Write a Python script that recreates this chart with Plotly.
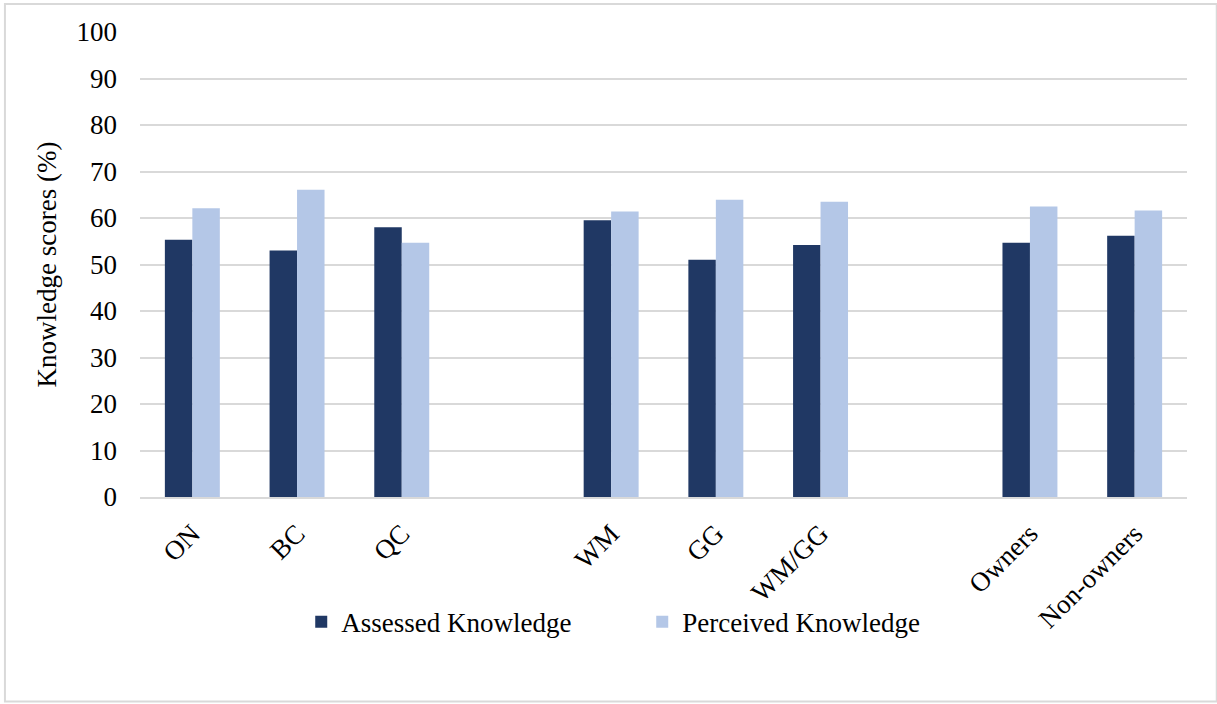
import plotly.graph_objects as go

# Groups: region, product type, ownership (blank slots separate the groups)
categories = ["ON", "BC", "QC", " ", "WM", "GG", "WM/GG", "  ", "Owners", "Non-owners"]
assessed = [55.3, 53.0, 58.0, None, 59.5, 51.0, 54.2, None, 54.7, 56.2]
perceived = [62.1, 66.1, 54.7, None, 61.4, 63.9, 63.5, None, 62.5, 61.6]
y_ticks = [0, 10, 20, 30, 40, 50, 60, 70, 80, 90, 100]

FONT = "Liberation Serif"
GRID = "#d9d9d9"
FS = 27

fig = go.Figure()
fig.add_trace(go.Bar(name="Assessed Knowledge", x=categories, y=assessed,
                     marker=dict(color="#203864", line=dict(width=0))))
fig.add_trace(go.Bar(name="Perceived Knowledge", x=categories, y=perceived,
                     marker=dict(color="#b4c7e7", line=dict(width=0))))

fig.update_layout(
    width=1217, height=704,
    margin=dict(l=140, r=30, t=32, b=207),
    paper_bgcolor="white", plot_bgcolor="white",
    barmode="group", bargap=0.475, bargroupgap=0,
    font=dict(family=FONT, size=FS, color="black"),
    showlegend=True,
    legend=dict(orientation="h", x=0.154, xanchor="left", y=-0.269, yanchor="middle",
                font=dict(family=FONT, size=FS), itemwidth=30, entrywidth=296,
                entrywidthmode="pixels", traceorder="normal",
                bgcolor="rgba(0,0,0,0)"),
    xaxis=dict(type="category", tickangle=-45, showgrid=False, showline=True,
               linecolor=GRID, linewidth=2, ticks="", tickfont=dict(family=FONT, size=FS),
               ticklabelstandoff=8),
    yaxis=dict(range=[0, 100], tickvals=y_ticks, showgrid=True, gridcolor=GRID,
               gridwidth=2, zeroline=False, showline=False, ticks="",
               ticklabelstandoff=22, tickfont=dict(family=FONT, size=FS),
               title=dict(text="Knowledge scores (%)", font=dict(family=FONT, size=FS),
                          standoff=12)),
    shapes=[dict(type="rect", xref="paper", yref="paper", x0=-0.1290, x1=1.0284,
                 y0=-0.44, y1=1.0602, line=dict(color=GRID, width=2))],
)

fig.write_html("out.html")
